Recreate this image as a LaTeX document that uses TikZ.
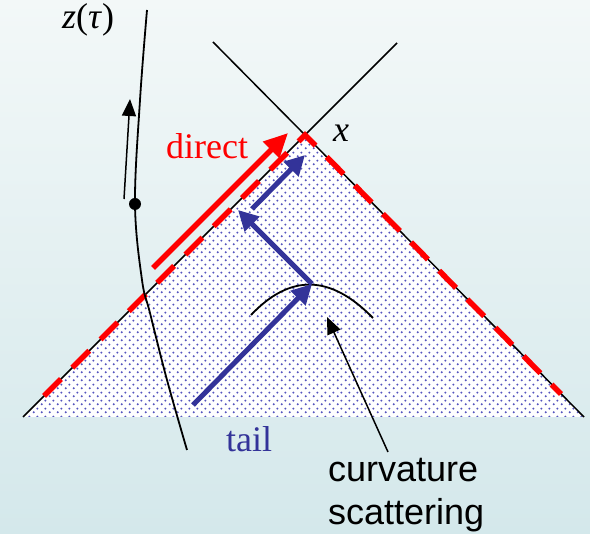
\documentclass[tikz,border=0pt]{standalone}
\usepackage{fontspec}
\setmainfont{Liberation Serif}
\setsansfont{Liberation Sans}
\usetikzlibrary{arrows.meta,patterns.meta}
\definecolor{bgtop}{RGB}{243,248,248}
\definecolor{bgbot}{RGB}{212,232,235}
\definecolor{tailblue}{RGB}{51,51,153}
\definecolor{dotblue}{RGB}{85,85,190}
\definecolor{dirred}{RGB}{255,0,0}
\tikzdeclarepattern{name=lightdots, type=uncolored,
  bounding box={(0pt,0pt) and (8pt,8pt)}, tile size={(8pt,8pt)},
  code={\fill (2pt,2pt) circle (1.2pt); \fill (6pt,6pt) circle (1.2pt);}}
\begin{document}
\begin{tikzpicture}[x=1pt,y=-1pt,
  thinline/.style={draw=black,line width=1.5pt},
  world/.style={draw=black,line width=1.8pt},
  reddash/.style={draw=dirred,line width=5.5pt,dash pattern=on 24pt off 16pt},
  redarrow/.style={draw=dirred,line width=5.5pt,-{Triangle[length=24pt,width=22pt]}},
  bluearrow/.style={draw=tailblue,line width=5pt,-{Triangle[length=20pt,width=20pt]}},
  blackarrow/.style={draw=black,line width=1.5pt,-{Triangle[length=17pt,width=14pt]}},
  serif36/.style={inner sep=0pt,font=\fontsize{36}{43}\selectfont},
  sans36/.style={inner sep=0pt,font=\sffamily\fontsize{36}{43}\selectfont}]
\shade[top color=bgtop,bottom color=bgbot] (0,0) rectangle (590,534);
\useasboundingbox (0,0) rectangle (590,534);
% light cone
\coordinate (L) at (23,417);
\coordinate (A) at (305,135);
\coordinate (R) at (584,417);
\coordinate (UL) at (213,42);
\coordinate (UR) at (397,43);
\fill[white] (L) -- (A) -- (R) -- cycle;
\fill[pattern=lightdots,pattern color=dotblue] (L) -- (A) -- (R) -- cycle;
\draw[thinline] (L) -- (UR);
\draw[thinline] (R) -- (UL);
% red dashed null rays
\coordinate (RDL) at (44,396);
\coordinate (RDR) at (561,394);
\draw[reddash] (RDL) -- (A) -- (RDR);
% direct arrow
\coordinate (D0) at (153,268);
\coordinate (D1) at (288,133);
\draw[redarrow] (D0) -- (D1);
% scattering curve
\coordinate (C0) at (251,315);
\coordinate (C1) at (373,318);
\draw[world] (C0) .. controls (290,274) and (330,274) .. (C1);
% tail arrows
\coordinate (T0) at (193,405);
\coordinate (S) at (312,284);
\coordinate (T2) at (238,210);
\coordinate (T3) at (252,209);
\coordinate (T4) at (305,155);
\draw[bluearrow] (T0) -- (S);
\draw[bluearrow] (S) -- (T2);
\draw[bluearrow] (T3) -- (T4);
% world line
\draw[world] plot[smooth,tension=0.6] coordinates {(147,10) (140,100) (135,204) (142,280) (150,313) (167,380) (187,450)};
\fill (135,204) circle (6pt);
\coordinate (W0) at (124,199);
\coordinate (W1) at (130,99);
\draw[blackarrow] (W0) -- (W1);
% curvature pointer
\coordinate (K0) at (388,452);
\coordinate (K1) at (327,317);
\draw[blackarrow] (K0) -- (K1);
% labels
\node[serif36,anchor=base west] (ztau) at (62,29) {\textit{z}(\textit{τ})};
\node[serif36,anchor=base west] (xlab) at (333,142) {\textit{x}};
\node[serif36,anchor=base west,text=dirred] (direct) at (166,159) {direct};
\node[serif36,anchor=base west,text=tailblue] (tail) at (226,452) {tail};
\node[sans36,anchor=base west] (curv) at (328,482) {curvature};
\node[sans36,anchor=base west] (scat) at (328,525) {scattering};
\end{tikzpicture}
\end{document}
